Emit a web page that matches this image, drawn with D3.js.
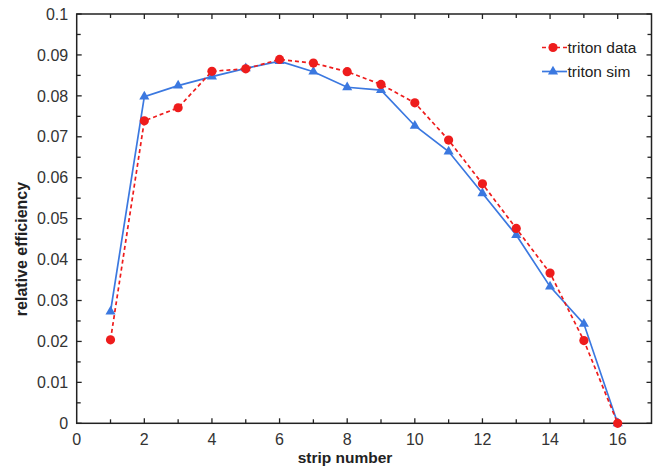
<!DOCTYPE html>
<html><head><meta charset="utf-8">
<script src="https://cdn.jsdelivr.net/npm/d3@7"></script>
<style>body{margin:0;background:#fff}</style>
</head><body>
<svg id="c" width="660" height="468"></svg>
<script>
const strips = [1,2,3,4,5,6,7,8,9,10,11,12,13,14,15,16];
const tritonData = [0.0204,0.0739,0.0771,0.0860,0.0866,0.0889,0.0880,0.0859,0.0828,0.0783,0.0692,0.0585,0.0476,0.0367,0.0202,0.0];
const tritonSim  = [0.0273,0.0798,0.0825,0.0847,0.0867,0.0885,0.0859,0.0821,0.0814,0.0727,0.0664,0.0562,0.0460,0.0334,0.0243,0.0];
const xTicks = [0,2,4,6,8,10,12,14,16];
const yTicks = [0,0.01,0.02,0.03,0.04,0.05,0.06,0.07,0.08,0.09,0.1];
const seriesNames = ["triton data","triton sim"];

const svg = d3.select("#c");
const L=76.7, R=651.5, T=14, B=423.3;
const x = d3.scaleLinear().domain([0,17]).range([L,R]);
const y = d3.scaleLinear().domain([0,0.1]).range([B,T]);
const font = "'Liberation Sans', Arial, sans-serif";
const red = "#ee1c1c", blue = "#3b78e0";

const g = svg.append("g");
g.append("rect").attr("x",L).attr("y",T).attr("width",R-L).attr("height",B-T)
 .attr("fill","none").attr("stroke","#222").attr("stroke-width",1.5);

const xMinor = d3.range(1,17,1);
const yMinor = d3.range(0,0.1001,0.005);
xMinor.forEach(v=>{
  const len = v%2===0?5:4;
  g.append("line").attr("x1",x(v)).attr("x2",x(v)).attr("y1",B).attr("y2",B-len).attr("stroke","#222").attr("stroke-width",1.3);
  g.append("line").attr("x1",x(v)).attr("x2",x(v)).attr("y1",T).attr("y2",T+len).attr("stroke","#222").attr("stroke-width",1.3);
});
yMinor.forEach((v,i)=>{
  const len = i%2===0?5:4;
  g.append("line").attr("x1",L).attr("x2",L+len).attr("y1",y(v)).attr("y2",y(v)).attr("stroke","#222").attr("stroke-width",1.3);
  g.append("line").attr("x1",R).attr("x2",R-len).attr("y1",y(v)).attr("y2",y(v)).attr("stroke","#222").attr("stroke-width",1.3);
});

g.selectAll(".xl").data(xTicks).enter().append("text")
 .attr("x",d=>x(d)).attr("y",B+22).attr("text-anchor","middle")
 .attr("font-family",font).attr("font-size",16).attr("fill","#333").text(d=>d);
g.selectAll(".yl").data(yTicks).enter().append("text")
 .attr("x",L-8.5).attr("y",d=>y(d)+5.7).attr("text-anchor","end")
 .attr("font-family",font).attr("font-size",16).attr("fill","#333")
 .text(d=>d===0?"0":d3.format(".2~f")(d));

svg.append("text").attr("x",345).attr("y",463).attr("text-anchor","middle")
 .attr("font-family",font).attr("font-size",15.5).attr("font-weight","bold").attr("fill","#222").text("strip number");
svg.append("text").attr("transform","translate(27,249) rotate(-90)").attr("text-anchor","middle")
 .attr("font-family",font).attr("font-size",16).attr("font-weight","bold").attr("fill","#222").text("relative efficiency");

const line = d3.line().x((d,i)=>x(strips[i])).y(d=>y(d));
svg.append("path").datum(tritonSim).attr("d",line).attr("fill","none").attr("stroke",blue).attr("stroke-width",1.7);
svg.append("path").datum(tritonData).attr("d",line).attr("fill","none").attr("stroke",red).attr("stroke-width",1.7).attr("stroke-dasharray","4,3");

const tri = d3.symbol().type(d3.symbolTriangle).size(44);
svg.selectAll(".st").data(tritonSim).enter().append("path")
 .attr("d",tri).attr("transform",(d,i)=>`translate(${x(strips[i])},${y(d)})`).attr("fill",blue);
svg.selectAll(".dc").data(tritonData).enter().append("circle")
 .attr("cx",(d,i)=>x(strips[i])).attr("cy",d=>y(d)).attr("r",4.6).attr("fill",red);

const leg = [{n:seriesNames[0],c:red,dash:"4,3",sym:"c",y:47.5},{n:seriesNames[1],c:blue,dash:null,sym:"t",y:71.5}];
leg.forEach(l=>{
  svg.append("line").attr("x1",542).attr("x2",567).attr("y1",l.y).attr("y2",l.y).attr("stroke",l.c).attr("stroke-width",1.7).attr("stroke-dasharray",l.dash);
  if(l.sym==="c") svg.append("circle").attr("cx",553).attr("cy",l.y).attr("r",4.6).attr("fill",l.c);
  else svg.append("path").attr("d",tri).attr("transform",`translate(553,${l.y})`).attr("fill",l.c);
  svg.append("text").attr("x",567.5).attr("y",l.y+5.5).attr("font-family",font).attr("font-size",15.5).attr("fill","#222").text(l.n);
});
</script>
</body></html>
